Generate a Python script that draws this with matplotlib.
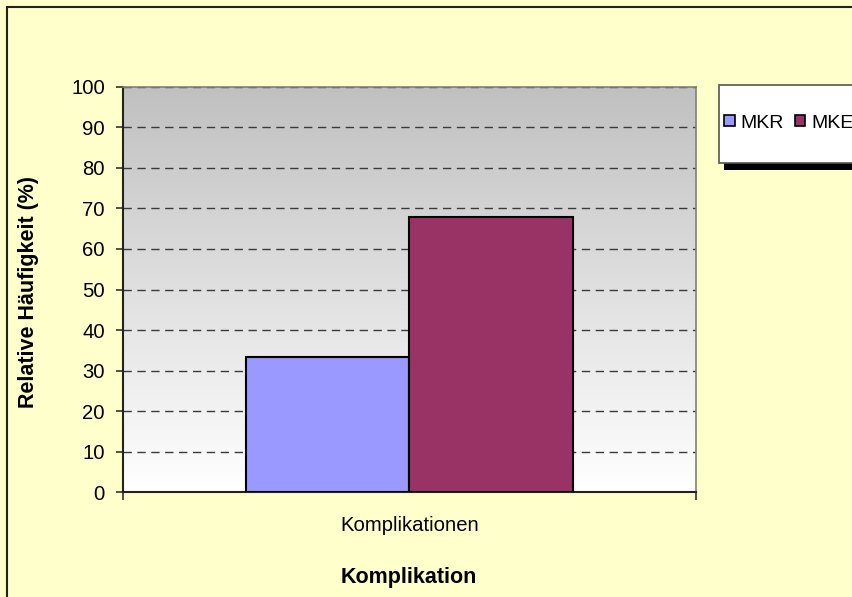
import numpy as np
import matplotlib
matplotlib.use("Agg")
import matplotlib.pyplot as plt
from matplotlib.patches import Rectangle, Patch

plt.rcParams['font.family'] = ['Liberation Sans', 'DejaVu Sans']

# Data
categories = ["Komplikationen"]
series_names = ["MKR", "MKE"]
values = {"MKR": [33.4], "MKE": [67.9]}
colors = {"MKR": "#9999FF", "MKE": "#993366"}
y_ticks = [0, 10, 20, 30, 40, 50, 60, 70, 80, 90, 100]

W, H = 853, 597
fig = plt.figure(figsize=(W / 100, H / 100), dpi=100)
fig.patch.set_facecolor("#FFFFCC")

# Chart-area border (left and top edges visible)
fig.patches.append(Rectangle((7 / W, -0.2), 1.2, 1 - 7 / H + 0.2, transform=fig.transFigure,
                             fill=False, edgecolor="#222222", lw=1.5, clip_on=False))

ax = fig.add_axes([123 / W, 1 - 492.3 / H, 573 / W, 405.6 / H])
ax.set_facecolor("none")

# Plot-area gradient from grey at the top to white at the bottom
grad = np.linspace(0, 1, 256).reshape(-1, 1)
ax.imshow(grad, extent=[0, 1, 0, 1], transform=ax.transAxes, aspect="auto",
          cmap=matplotlib.colors.LinearSegmentedColormap.from_list("g", ["#FFFFFF", "#C0C0C0"]),
          origin="lower", zorder=0)

n = len(series_names)
bar_w = 1 / (n + 1.5)
x = np.arange(len(categories))
for i, name in enumerate(series_names):
    offs = (i - (n - 1) / 2) * bar_w
    ax.bar(x + offs, values[name], width=bar_w, color=colors[name],
           edgecolor="black", linewidth=1.5, zorder=3, label=name)

ax.set_xlim(-0.5, len(categories) - 0.5)
ax.set_ylim(0, 100)
ax.set_yticks(y_ticks)
ax.yaxis.grid(True, linestyle=(0, (6, 4)), color="#3a3a3a", linewidth=1, zorder=1)
ax.set_axisbelow(True)

ax.set_xticks(x)
ax.set_xticklabels(categories, fontsize=14.6)
ax.set_xticks(np.arange(len(categories) + 1) - 0.5, minor=True)
ax.tick_params(axis="x", which="major", length=0, pad=17)
ax.tick_params(axis="x", which="minor", length=6, width=1.2, direction="out", color="#333333")
ax.tick_params(axis="y", length=5, width=1.2, direction="out", labelsize=14.6, pad=8, color="#333333")

for s in ["top", "right"]:
    ax.spines[s].set_color("#808080")
    ax.spines[s].set_linewidth(1.2)
for s in ["left", "bottom"]:
    ax.spines[s].set_color("#222222")
    ax.spines[s].set_linewidth(1.5)

fig.text(29 / W, 1 - 292 / H, "Relative Häufigkeit (%)", rotation=90, fontsize=15.5,
         fontweight="bold", ha="center", va="center")
fig.text(409 / W, 1 - 578 / H, "Komplikation", fontsize=15.5, fontweight="bold",
         ha="center", va="center")

# Legend box with drop shadow
lx, ly, lw_, lh = 719, 85, 150, 78
fig.patches.append(Rectangle(((lx + 5) / W, 1 - (ly + lh + 7) / H), lw_ / W, lh / H,
                             transform=fig.transFigure, facecolor="black", edgecolor="none", zorder=5))
fig.patches.append(Rectangle((lx / W, 1 - (ly + lh) / H), lw_ / W, lh / H,
                             transform=fig.transFigure, facecolor="white", edgecolor="#555555",
                             lw=1.2, zorder=6))
handles = [Patch(facecolor=colors[nm], edgecolor="black", lw=1.2) for nm in series_names]
leg = fig.legend(handles, series_names, loc="center left",
                 bbox_to_anchor=(724 / W, 1 - 123 / H), ncol=2, frameon=False,
                 fontsize=14, handlelength=0.55, handleheight=0.55, handletextpad=0.3,
                 columnspacing=0.55, borderpad=0, borderaxespad=0)
leg.set_zorder(7)

fig.savefig("out.png", dpi=100, facecolor=fig.get_facecolor())
